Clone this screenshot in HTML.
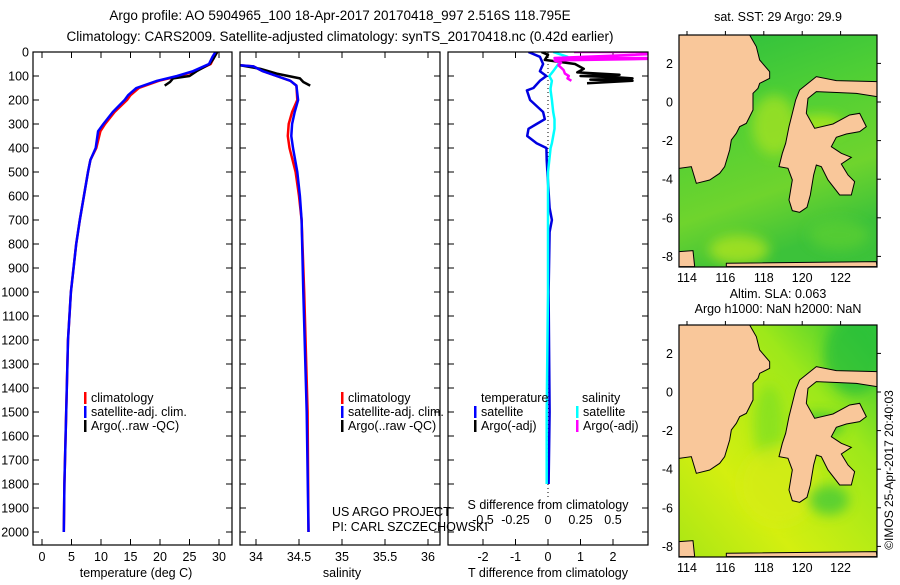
<!DOCTYPE html>
<html><head><meta charset="utf-8"><style>
body{margin:0;background:#fff;}
svg text{font-family:"Liberation Sans",sans-serif;font-size:12.5px;fill:#000;}
</style></head><body>
<svg id="chart" width="900" height="580" viewBox="0 0 900 580" xmlns="http://www.w3.org/2000/svg">
<text x="340" y="20" text-anchor="middle" style="font-size:13.5px">Argo profile: AO 5904965_100 18-Apr-2017 20170418_997 2.516S 118.795E</text>
<text x="340" y="41" text-anchor="middle" style="font-size:13.5px">Climatology: CARS2009. Satellite-adjusted climatology: synTS_20170418.nc (0.42d earlier)</text>
<g id="panels"></g>
<g id="maps"></g>
<text transform="translate(893,470) rotate(-90)" text-anchor="middle" style="font-size:12px">©IMOS 25-Apr-2017 20:40:03</text>
</svg>
<script>
// ---- data ----
const depthTick=[0,100,200,300,400,500,600,700,800,900,1000,1100,1200,1300,1400,1500,1600,1700,1800,1900,2000];
const tTicks=[0,5,10,15,20,25,30];
const sTicks=[34,34.5,35,35.5,36];
const sTickLabels=["34","34.5","35","35.5","36"];
const dTTicks=[-2,-1,0,1,2];
const dSTicks=[-0.5,-0.25,0,0.25,0.5];
const dSTickLabels=["-0.5","-0.25","0","0.25","0.5"];

const profDepth=[0,20,50,80,100,120,150,180,200,250,300,330,400,450,500,600,700,800,1000,1200,1400,1600,1800,2000];
const tempSat=[29.4,28.9,28.3,25.6,22.9,19.5,16,14.6,14,12,10.4,9.5,9.1,8.2,7.8,7.1,6.4,5.8,4.9,4.4,4.2,4.0,3.8,3.7];
const tempClim=[29.7,29.2,28.6,26.0,23.2,19.8,16.4,15.0,14.4,12.3,10.7,9.9,9.2,8.2,7.8,7.1,6.4,5.8,4.9,4.4,4.2,4.0,3.8,3.7];
const argoDepth=[0,30,50,80,100,110,125,140];
const tempArgo=[29.7,29.0,28.4,26.2,25.0,22.2,21.7,20.8];

const salDepth=[55,60,80,100,120,140,200,250,300,350,400,500,600,700,1000,1500,2000];
const salSat=[33.81,33.97,34.08,34.24,34.4,34.47,34.49,34.45,34.42,34.41,34.43,34.48,34.51,34.53,34.55,34.59,34.61];
const salClim=[33.81,33.97,34.08,34.24,34.4,34.47,34.48,34.42,34.38,34.37,34.39,34.46,34.5,34.53,34.56,34.6,34.61];
const salArgoDepth=[55,70,90,110,125,140];
const salArgo=[33.81,34.05,34.24,34.51,34.55,34.63];

const dDepth=[0,20,50,80,100,120,150,160,200,250,280,300,320,350,380,400,450,500,650,700,750,1000,1500,1800];
const dTSat=[-0.6,-0.25,-0.15,-0.25,-0.05,-0.25,-0.45,-0.65,-0.55,-0.15,-0.1,-0.35,-0.6,-0.64,-0.35,-0.05,-0.04,-0.02,0.05,0.12,0.05,0.02,0.05,0.02];
const dSSat=[0.04,0.15,0.08,0.04,0.01,0.03,0.02,0.02,0.03,0.04,0.05,0.05,0.05,0.04,0.03,0.02,0.01,0.0,0.0,0.0,0.0,0.0,-0.01,-0.01];
const dArgoDepth=[0,12,33,50,70,85,95,100,105,110,115,120,130];
const dTArgo=[-0.2,0.0,-0.1,0.83,1.1,0.9,2.2,1.0,2.1,2.6,1.3,2.6,1.2];
const dSArgoDepth=[0,0,25,25,35,45,55,65,75,90,100,110,120];
const dSArgo=[0.2,1.2,0.05,1.2,0.05,0.1,0.08,0.1,0.12,0.13,0.16,0.15,0.18];

// ---- layout ----
const NS="http://www.w3.org/2000/svg";
const Y0=52,PPM=0.24,BOT=545;
const yD=d=>Y0+d*PPM;
const panels=document.getElementById('panels');
function el(tag,attrs,parent,txt){const e=document.createElementNS(NS,tag);for(const k in attrs)e.setAttribute(k,attrs[k]);if(txt!==undefined)e.textContent=txt;(parent||panels).appendChild(e);return e;}
function line(xs,ys,color,name,w){
  let p=xs.map((x,i)=>(i?'L':'M')+x.toFixed(1)+' '+ys[i].toFixed(1)).join(' ');
  const e=el('path',{d:p,fill:'none',stroke:color,'stroke-width':w||2.5,'stroke-linejoin':'round'});
  
  
}
const P=[{x0:33,x1:232},{x0:240,x1:440},{x0:448,x1:648}];
const xT=t=>42+t*5.9, xS=s=>256+(s-34)*86, xDT=v=>548+v*32.5, xDS=v=>548+v*130;
P.forEach((p,i)=>{
  const cp=el('clipPath',{id:'cp'+i});
  el('rect',{x:p.x0,y:Y0,width:p.x1-p.x0,height:BOT-Y0},cp);
});
depthTick.forEach(d=>{
  const t=el('text',{x:29,y:yD(d)+4.5,'text-anchor':'end'},panels,String(d));
  
  
  P.forEach(p=>{el('line',{x1:p.x0,x2:p.x0+6,y1:yD(d),y2:yD(d),stroke:'#000'});el('line',{x1:p.x1-6,x2:p.x1,y1:yD(d),y2:yD(d),stroke:'#000'});});
});
function xticks(p,vals,labels,fx){
  vals.forEach((v,i)=>{
    const x=fx(v);
    el('line',{x1:x,x2:x,y1:BOT,y2:BOT-6,stroke:'#000'});
    el('line',{x1:x,x2:x,y1:Y0,y2:Y0+6,stroke:'#000'});
    const t=el('text',{x:x,y:561,'text-anchor':'middle'},panels,labels[i]);
    
    
  });
}
xticks(P[0],tTicks,tTicks.map(String),xT);
xticks(P[1],sTicks,sTickLabels,xS);
xticks(P[2],dTTicks,dTTicks.map(String),xDT);
const g0=el('g',{'clip-path':'url(#cp0)'});
const g1=el('g',{'clip-path':'url(#cp1)'});
const g2=el('g',{'clip-path':'url(#cp2)'});
function cl(xs,ys,c,n,g){line(xs,ys,c,n);g.appendChild(panels.lastChild);}
cl(tempClim.map(xT),profDepth.map(yD),'#f00','temp-climatology-line',g0);
cl(tempArgo.map(xT),argoDepth.map(yD),'#000','temp-argo-line',g0);
cl(tempSat.map(xT),profDepth.map(yD),'#00f','temp-satellite-line',g0);
cl(salClim.map(xS),salDepth.map(yD),'#f00','sal-climatology-line',g1);
cl(salArgo.map(xS),salArgoDepth.map(yD),'#000','sal-argo-line',g1);
cl(salSat.map(xS),salDepth.map(yD),'#00f','sal-satellite-line',g1);
el('line',{x1:548,x2:548,y1:Y0,y2:500,stroke:'#000','stroke-dasharray':'1 3'},g2);
cl(dTSat.map(xDT),dDepth.map(yD),'#0000e0','dT-satellite-line',g2);
cl(dSSat.map(xDS),dDepth.map(yD),'#0ff','dS-satellite-line',g2);
cl(dTArgo.map(xDT),dArgoDepth.map(yD),'#000','dT-argo-line',g2);
cl(dSArgo.map(xDS),dSArgoDepth.map(yD),'#f0f','dS-argo-line',g2);
P.forEach((p,i)=>{const r=el('rect',{x:p.x0,y:Y0,width:p.x1-p.x0,height:BOT-Y0,fill:'none',stroke:'#000','stroke-width':1.2});

});
dSTicks.forEach((v,i)=>{const t=el('text',{x:xDS(v),y:524,'text-anchor':'middle'},panels,dSTickLabels[i]);

});
function txt(x,y,s,name,anchor){const t=el('text',{x:x,y:y,'text-anchor':anchor||'start'},panels,s);

}
txt(548,509,'S difference from climatology','s-diff-axis-title','middle');
txt(136,577,'temperature (deg C)','x-axis-title-temp','middle');
txt(342,577,'salinity','x-axis-title-sal','middle');
txt(548,577,'T difference from climatology','x-axis-title-tdiff','middle');
txt(332,516,'US ARGO PROJECT','project-label');
txt(332,531,'PI: CARL SZCZECHOWSKI','pi-label');
function leg(x,y,c,s,name){el('rect',{x:x,y:y-10,width:2.5,height:12,fill:c});txt(x+7,y,s,name);}
leg(84,402,'#f00','climatology','legend-climatology');
leg(84,416,'#00f','satellite-adj. clim.','legend-satellite');
leg(84,430,'#000','Argo(..raw -QC)','legend-argo');
leg(341,402,'#f00','climatology','legend-climatology-2');
leg(341,416,'#00f','satellite-adj. clim.','legend-satellite-2');
leg(341,430,'#000','Argo(..raw -QC)','legend-argo-2');
txt(481,402,'temperature','legend-temperature-header');
txt(582,402,'salinity','legend-salinity-header');
leg(474,416,'#00f','satellite','legend-t-satellite');
leg(474,430,'#000','Argo(-adj)','legend-t-argo');
leg(576,416,'#0ff','satellite','legend-s-satellite');
leg(576,430,'#f0f','Argo(-adj)','legend-s-argo');

// ---- maps ----
const latTicks=[2,0,-2,-4,-6,-8];
const lonTicks=[114,116,118,120,122];
const maps=document.getElementById('maps');
const borneo="58,105 270,105 290,140 300,180 330,215 330,235 300,250 295,265 280,280 280,330 260,370 240,380 230,400 215,420 210,450 195,500 180,520 150,540 110,550 95,500 58,505";
const sulawesi="420,270 470,230 530,242 652,245 652,290 590,280 540,278 470,275 445,295 440,340 465,385 520,372 570,345 600,340 620,380 600,395 560,402 530,412 515,440 545,460 575,472 545,492 565,525 585,545 575,585 540,585 505,540 485,500 470,495 462,525 452,585 442,622 420,637 398,632 388,600 398,540 385,505 358,500 368,460 378,430 388,380 398,340 408,300";
const defs=el('defs',{},maps);
const fb=el('filter',{id:'blur',x:'-50%',y:'-50%',width:'200%',height:'200%'},defs);
el('feGaussianBlur',{stdDeviation:6},fb);
function drawMap(top,title1,title2,grad,blobs,name,cid){
  const W=198,H=232,L=679;
  const cp=el('clipPath',{id:cid},defs);
  el('rect',{x:L,y:top,width:W,height:H},cp);
  const g=el('g',{},maps);
  
  
  const cg=el('g',{'clip-path':'url(#'+cid+')'},g);
  el('rect',{x:L,y:top,width:W,height:H,fill:'url(#'+grad+')'},cg);
  blobs.forEach(b=>el('ellipse',{cx:L+b[0],cy:top+b[1],rx:b[2],ry:b[3],fill:b[4],opacity:0.75,filter:'url(#blur)'},cg));
  const inner=el('g',{transform:`translate(${L},${top}) scale(0.3333) translate(-58,-105)`},cg);
  [borneo,sulawesi,"58,755 100,752 105,800 58,800","200,790 650,785 652,800 200,800"].forEach(pts=>{
    el('polygon',{points:pts,fill:'#f9c79a',stroke:'#000','stroke-width':3},inner);
  });
  el('rect',{x:L,y:top,width:W,height:H,fill:'none',stroke:'#000','stroke-width':1.2},g);
  latTicks.forEach(v=>{const y=top+67-v*19.3;
    el('line',{x1:L+W,x2:L+W+4,y1:y,y2:y,stroke:'#000'},g);
    const t=el('text',{x:L-6,y:y+4.5,'text-anchor':'end'},g,String(v));
    
    });
  lonTicks.forEach(v=>{const x=L+8+(v-114)*19.2;
    el('line',{x1:x,x2:x,y1:top,y2:top-4,stroke:'#000'},g);
    const t=el('text',{x:x,y:top+H+15,'text-anchor':'middle'},g,String(v));
    
    });
  const a=el('text',{x:L+99,y:top-(title2?27:14),'text-anchor':'middle'},g,title1);
  
  
  if(title2){const b=el('text',{x:L+99,y:top-12,'text-anchor':'middle'},g,title2);
  
  }
}
const lg1=el('linearGradient',{id:'sst',x1:0,y1:0,x2:0.3,y2:1},defs);
[['0','#2bbf3f'],['0.4','#4fcf35'],['0.75','#6fd42d'],['1','#3cc23a']].forEach(s=>el('stop',{offset:s[0],'stop-color':s[1]},lg1));
const lg2=el('linearGradient',{id:'sla',x1:1,y1:0,x2:0,y2:1},defs);
[['0','#2fc83a'],['0.3','#9de81a'],['0.7','#d4ef10'],['1','#a9e615']].forEach(s=>el('stop',{offset:s[0],'stop-color':s[1]},lg2));
drawMap(35,'sat. SST: 29 Argo: 29.9',null,'sst',
  [[95,90,22,30,'#a6e220'],[140,90,25,10,'#b9ea18'],[60,215,30,15,'#b5e61c'],[160,200,30,15,'#5ccf30']],'sst-map','mc1');
drawMap(325,'Altim. SLA: 0.063','Argo h1000: NaN h2000: NaN','sla',
  [[175,30,30,40,'#26be3a'],[140,100,25,12,'#2fc23a'],[90,100,15,40,'#7fe020'],[100,160,40,40,'#d6ec12'],[150,175,20,15,'#3ec83a']],'sla-map','mc2');
</script>
</body></html>
